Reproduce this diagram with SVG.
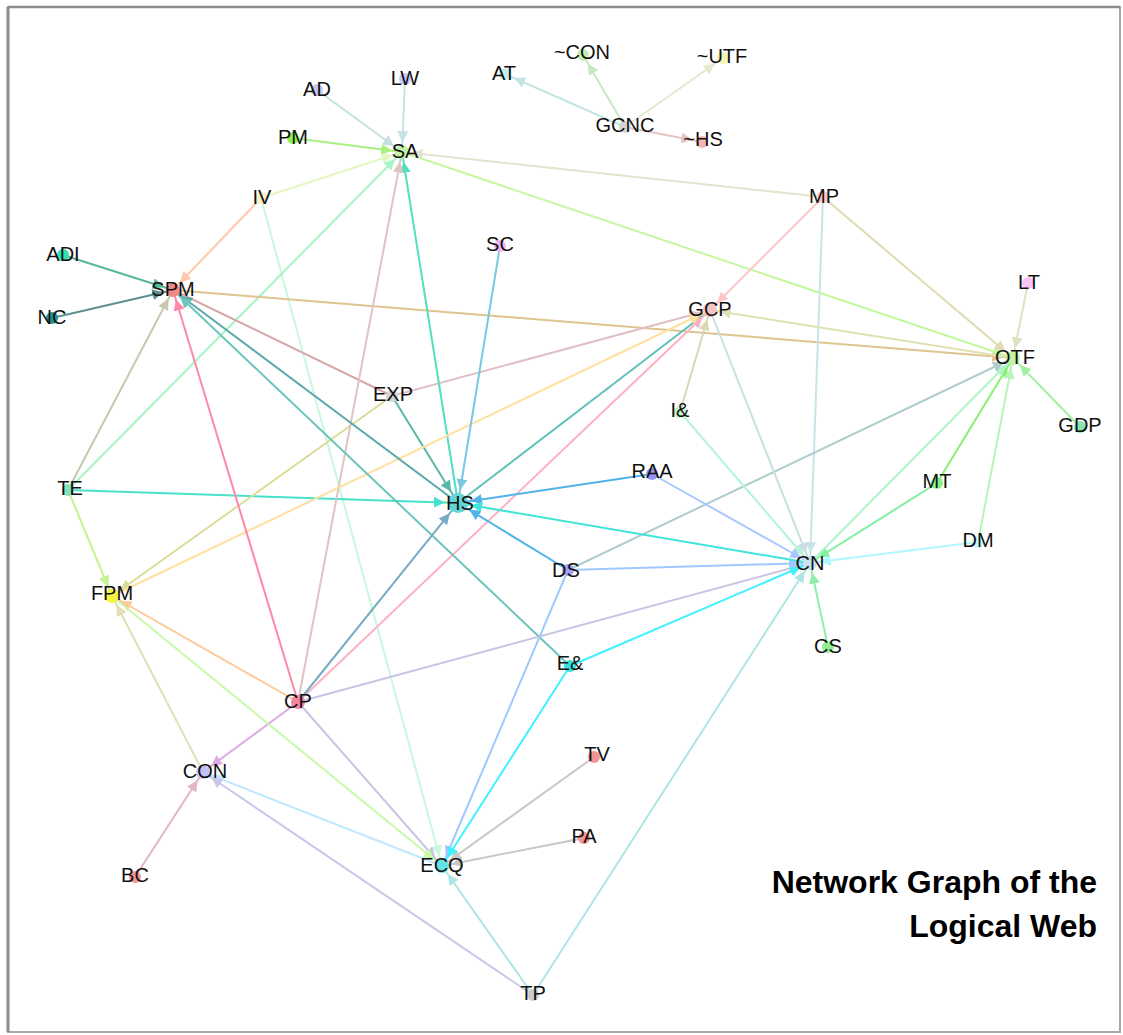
<svg xmlns="http://www.w3.org/2000/svg" width="1123" height="1035" viewBox="0 0 1123 1035">
<style>
.e{fill:none;stroke-width:2;marker-end:url(#a)}
.eh{fill:none;stroke-width:2;marker-end:url(#ab)}
.p{fill:none;stroke-width:2}
.n circle{stroke:none}
.n text{font-family:"Liberation Sans",Arial,Helvetica,sans-serif;font-size:20px;text-anchor:middle;fill:#111}
.title{font-family:"Liberation Sans",Arial,Helvetica,sans-serif;font-size:32px;font-weight:bold;text-anchor:end;fill:#000}
</style>
<defs>
<marker id="a" viewBox="0 0 10 10" refX="19" refY="5" markerWidth="11" markerHeight="11" markerUnits="userSpaceOnUse" orient="auto"><path d="M0,0 L10,5 L0,10 z" fill="context-stroke"/></marker>
<marker id="ab" viewBox="0 0 10 10" refX="22" refY="5" markerWidth="11" markerHeight="11" markerUnits="userSpaceOnUse" orient="auto"><path d="M0,0 L10,5 L0,10 z" fill="context-stroke"/></marker>
</defs>
<rect x="0" y="0" width="1123" height="1035" fill="#fff"/>
<rect x="8" y="7" width="1112" height="1025" fill="#fff" stroke="#a8a8a8" stroke-width="2"/>
<line x1="8" y1="7" x2="8" y2="1032" stroke="#8c8c8c" stroke-width="3"/>
<line x1="8" y1="7" x2="1120" y2="7" stroke="#8c8c8c" stroke-width="2.5"/>

<g id="edges">
<line class="e" x1="317" y1="90" x2="402" y2="152" stroke="#c5e0e0"/>
<line class="e" x1="405" y1="79" x2="402" y2="152" stroke="#c5e2e6"/>
<line class="e" x1="293" y1="138" x2="402" y2="152" stroke="#a8f080"/>
<line class="e" x1="261" y1="198" x2="402" y2="152" stroke="#e2f8c0"/>
<line class="e" x1="261" y1="198" x2="173" y2="290" stroke="#ffc8a8"/>
<line class="e" x1="261" y1="198" x2="442" y2="866" stroke="#c8f8e0"/>
<line class="e" x1="68" y1="490" x2="402" y2="152" stroke="#a8f4c4"/>
<line class="e" x1="68" y1="490" x2="173" y2="290" stroke="#c8c8b0"/>
<line class="eh" x1="68" y1="490" x2="458" y2="503" stroke="#48e0c8"/>
<line class="e" x1="68" y1="490" x2="112" y2="596" stroke="#c4f490"/>
<line class="e" x1="63" y1="255" x2="173" y2="290" stroke="#58b898"/>
<line class="e" x1="52" y1="318" x2="173" y2="290" stroke="#5e9090"/>
<line class="e" x1="173" y1="290" x2="1013" y2="358" stroke="#e0c490"/>
<line class="p" x1="173" y1="290" x2="392" y2="396" stroke="#d8a8a8"/>
<line class="eh" x1="392" y1="396" x2="458" y2="503" stroke="#58b8a8"/>
<line class="e" x1="392" y1="396" x2="710" y2="310" stroke="#e0c0c4"/>
<line class="e" x1="392" y1="396" x2="112" y2="596" stroke="#dcdc98"/>
<line class="e" x1="458" y1="503" x2="402" y2="152" stroke="#50e0c0"/>
<line class="e" x1="298" y1="702" x2="402" y2="152" stroke="#e0c4c4"/>
<line class="e" x1="402" y1="152" x2="1013" y2="358" stroke="#c4f8a0"/>
<line class="e" x1="823" y1="197" x2="402" y2="152" stroke="#e4e4cc"/>
<line class="e" x1="823" y1="197" x2="710" y2="310" stroke="#ffc8c8"/>
<line class="e" x1="823" y1="197" x2="810" y2="563" stroke="#c8e4e8"/>
<line class="e" x1="823" y1="197" x2="1013" y2="358" stroke="#e0dcb0"/>
<line class="e" x1="1028" y1="283" x2="1013" y2="358" stroke="#e0e0c4"/>
<line class="e" x1="1080" y1="427" x2="1013" y2="358" stroke="#a0f0a0"/>
<line class="e" x1="937" y1="483" x2="1013" y2="358" stroke="#88f070"/>
<line class="e" x1="937" y1="483" x2="810" y2="563" stroke="#80f0a0"/>
<line class="e" x1="978" y1="542" x2="1013" y2="358" stroke="#b8f4b8"/>
<line class="e" x1="978" y1="542" x2="810" y2="563" stroke="#b0f8ff"/>
<line class="e" x1="810" y1="563" x2="1013" y2="358" stroke="#b0f4c8"/>
<line class="e" x1="568" y1="570" x2="1013" y2="358" stroke="#b0cccc"/>
<line class="e" x1="1013" y1="358" x2="710" y2="310" stroke="#e0e0b4"/>
<line class="e" x1="680" y1="412" x2="710" y2="310" stroke="#d8d8b4"/>
<line class="e" x1="680" y1="412" x2="810" y2="563" stroke="#b4f4d8"/>
<line class="e" x1="710" y1="310" x2="810" y2="563" stroke="#c8e0e0"/>
<line class="e" x1="458" y1="503" x2="710" y2="310" stroke="#60c0b8"/>
<line class="e" x1="298" y1="702" x2="710" y2="310" stroke="#ffb0c4"/>
<line class="e" x1="112" y1="596" x2="710" y2="310" stroke="#ffe0a0"/>
<line class="e" x1="458" y1="503" x2="173" y2="290" stroke="#5aa8a8"/>
<line class="e" x1="570" y1="666" x2="173" y2="290" stroke="#6cc4bc"/>
<line class="e" x1="298" y1="702" x2="173" y2="290" stroke="#ff88a8"/>
<line class="eh" x1="298" y1="702" x2="458" y2="503" stroke="#78acc4"/>
<line class="e" x1="298" y1="702" x2="112" y2="596" stroke="#ffc898"/>
<line class="e" x1="298" y1="702" x2="203" y2="772" stroke="#e0a8e4"/>
<line class="e" x1="298" y1="702" x2="810" y2="563" stroke="#c8c4e4"/>
<line class="e" x1="298" y1="702" x2="442" y2="866" stroke="#c8c4e4"/>
<line class="e" x1="112" y1="596" x2="442" y2="866" stroke="#c8f8a8"/>
<line class="e" x1="203" y1="772" x2="112" y2="596" stroke="#e0e0b4"/>
<line class="e" x1="135" y1="877" x2="203" y2="772" stroke="#e4b4c8"/>
<line class="e" x1="442" y1="866" x2="203" y2="772" stroke="#c0e8ff"/>
<line class="e" x1="533" y1="995" x2="203" y2="772" stroke="#c8c8e8"/>
<line class="e" x1="533" y1="995" x2="442" y2="866" stroke="#b0e4e4"/>
<line class="e" x1="533" y1="995" x2="810" y2="563" stroke="#b0e4e4"/>
<line class="e" x1="594" y1="757" x2="442" y2="866" stroke="#c8c8c8"/>
<line class="e" x1="584" y1="838" x2="442" y2="866" stroke="#c8c8c8"/>
<line class="e" x1="568" y1="570" x2="442" y2="866" stroke="#a0c8ff"/>
<line class="e" x1="570" y1="666" x2="442" y2="866" stroke="#40f0ff"/>
<line class="e" x1="570" y1="666" x2="810" y2="563" stroke="#40f0ff"/>
<line class="eh" x1="568" y1="570" x2="458" y2="503" stroke="#50b4e8"/>
<line class="eh" x1="652" y1="474" x2="458" y2="503" stroke="#50b4e8"/>
<line class="e" x1="652" y1="474" x2="810" y2="563" stroke="#a8c8ff"/>
<line class="e" x1="568" y1="570" x2="810" y2="563" stroke="#a0c8ff"/>
<line class="eh" x1="810" y1="563" x2="458" y2="503" stroke="#40e4d8"/>
<line class="eh" x1="500" y1="246" x2="458" y2="503" stroke="#78c8e4"/>
<line class="e" x1="625" y1="127" x2="505" y2="74" stroke="#c4e4e4"/>
<line class="e" x1="625" y1="127" x2="583" y2="55" stroke="#c8e8c4"/>
<line class="e" x1="625" y1="127" x2="723" y2="58" stroke="#e4e8cc"/>
<line class="e" x1="625" y1="127" x2="702" y2="142" stroke="#e4c4c4"/>
<line class="e" x1="828" y1="647" x2="810" y2="563" stroke="#90f0a8"/>
</g>

<g class="n" id="n-AD"><circle cx="317" cy="90" r="6" fill="#c8c8f4"/><text x="317" y="96">AD</text></g>
<g class="n" id="n-LW"><circle cx="405" cy="79" r="6" fill="#c8c8ff"/><text x="405" y="85">LW</text></g>
<g class="n" id="n-PM"><circle cx="293" cy="138" r="6" fill="#90ee50"/><text x="293" y="144">PM</text></g>
<g class="n" id="n-SA"><circle cx="402" cy="152" r="7" fill="#c4f4a4"/><text x="405" y="158">SA</text></g>
<g class="n" id="n-AT"><circle cx="505" cy="74" r="6" fill="#c4f0f0"/><text x="504" y="80">AT</text></g>
<g class="n" id="n-NCON"><circle cx="583" cy="55" r="6" fill="#c4f0b4"/><text x="582" y="59">~CON</text></g>
<g class="n" id="n-NUTF"><circle cx="723" cy="58" r="6" fill="#f4f4b4"/><text x="722" y="63">~UTF</text></g>
<g class="n" id="n-GCNC"><circle cx="625" cy="127" r="6" fill="#d4d4d4"/><text x="625" y="132">GCNC</text></g>
<g class="n" id="n-NHS"><circle cx="702" cy="142" r="6" fill="#f4b4b4"/><text x="703" y="146">~HS</text></g>
<g class="n" id="n-SC"><circle cx="500" cy="246" r="6" fill="#f4b4f4"/><text x="500" y="251">SC</text></g>
<g class="n" id="n-GCP"><circle cx="710" cy="310" r="7" fill="#f4c4c4"/><text x="710" y="316">GCP</text></g>
<g class="n" id="n-MP"><circle cx="823" cy="197" r="6" fill="#ffc4c4"/><text x="824" y="203">MP</text></g>
<g class="n" id="n-LT"><circle cx="1028" cy="283" r="6" fill="#f8c4f8"/><text x="1029" y="289">LT</text></g>
<g class="n" id="n-IV"><circle cx="261" cy="198" r="6" fill="#f8f0c4"/><text x="262" y="204">IV</text></g>
<g class="n" id="n-ADI"><circle cx="63" cy="255" r="6" fill="#30e0b4"/><text x="63" y="261">ADI</text></g>
<g class="n" id="n-SPM"><circle cx="173" cy="290" r="7" fill="#f08888"/><text x="173" y="296">SPM</text></g>
<g class="n" id="n-NC"><circle cx="52" cy="318" r="6" fill="#209494"/><text x="52" y="324">NC</text></g>
<g class="n" id="n-OTF"><circle cx="1013" cy="358" r="7" fill="#c4f4a4"/><text x="1015" y="364">OTF</text></g>
<g class="n" id="n-GDP"><circle cx="1080" cy="427" r="6" fill="#88e4b4"/><text x="1080" y="432">GDP</text></g>
<g class="n" id="n-MT"><circle cx="937" cy="483" r="6" fill="#88f088"/><text x="937" y="488">MT</text></g>
<g class="n" id="n-DM"><circle cx="978" cy="542" r="6" fill="#c4f8ff"/><text x="978" y="547">DM</text></g>
<g class="n" id="n-CN"><circle cx="810" cy="563" r="7" fill="#c4e4f4"/><text x="810" y="570">CN</text></g>
<g class="n" id="n-CS"><circle cx="828" cy="647" r="6" fill="#90f094"/><text x="828" y="653">CS</text></g>
<g class="n" id="n-TE"><circle cx="68" cy="490" r="6" fill="#84e4b8"/><text x="70" y="495">TE</text></g>
<g class="n" id="n-FPM"><circle cx="112" cy="596" r="7" fill="#f4f440"/><text x="112" y="600">FPM</text></g>
<g class="n" id="n-EXP"><circle cx="392" cy="396" r="6" fill="#d4d4d4"/><text x="393" y="401">EXP</text></g>
<g class="n" id="n-IA"><circle cx="680" cy="412" r="6" fill="#c4f4c4"/><text x="680" y="417">I&amp;</text></g>
<g class="n" id="n-RAA"><circle cx="652" cy="474" r="6" fill="#9494f4"/><text x="652" y="478">RAA</text></g>
<g class="n" id="n-HS"><circle cx="458" cy="503" r="10" fill="#64d4d4"/><text x="460" y="510">HS</text></g>
<g class="n" id="n-DS"><circle cx="568" cy="570" r="6" fill="#a4a4f4"/><text x="566" y="577">DS</text></g>
<g class="n" id="n-EA"><circle cx="570" cy="666" r="6" fill="#30e4e4"/><text x="570" y="670">E&amp;</text></g>
<g class="n" id="n-CP"><circle cx="298" cy="702" r="7" fill="#f484a4"/><text x="298" y="708">CP</text></g>
<g class="n" id="n-CON"><circle cx="203" cy="772" r="7" fill="#c4c4f4"/><text x="205" y="778">CON</text></g>
<g class="n" id="n-BC"><circle cx="135" cy="877" r="6" fill="#f49494"/><text x="135" y="882">BC</text></g>
<g class="n" id="n-TV"><circle cx="594" cy="757" r="6" fill="#f49494"/><text x="597" y="761">TV</text></g>
<g class="n" id="n-PA"><circle cx="584" cy="838" r="6" fill="#f49494"/><text x="584" y="843">PA</text></g>
<g class="n" id="n-ECQ"><circle cx="442" cy="866" r="7" fill="#64e4e4"/><text x="442" y="872">ECQ</text></g>
<g class="n" id="n-TP"><circle cx="533" cy="995" r="6" fill="#cccccc"/><text x="533" y="1000">TP</text></g>

<g id="title">
<text class="title" x="1097" y="893">Network Graph of the</text>
<text class="title" x="1097" y="937">Logical Web</text>
</g>
</svg>
